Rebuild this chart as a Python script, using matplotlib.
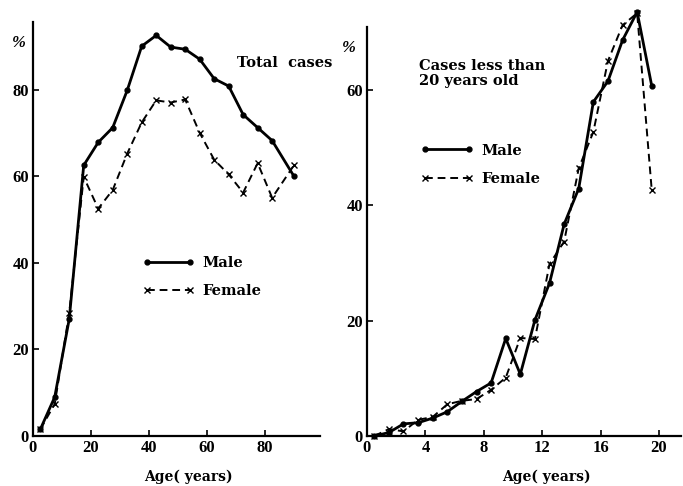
import matplotlib
matplotlib.use("Agg")
import matplotlib.pyplot as plt

### DATA

# total cases, age in years
total_age_male = [2.5, 7.5, 12.5, 17.5, 22.5, 27.5, 32.5, 37.5, 42.5, 47.5,
                  52.5, 57.5, 62.5, 67.5, 72.5, 77.5, 82.5, 90]
total_male = [1.5, 9, 27, 62.5, 67.8, 71.2, 79.8, 90, 92.5, 89.8,
              89.3, 87, 82.5, 80.8, 74.2, 71.2, 68.2, 60]
total_age_female = [2.5, 7.5, 12.5, 17.5, 22.5, 27.5, 32.5, 37.5, 42.5, 47.5,
                    52.5, 57.5, 62.5, 67.5, 72.5, 77.5, 82.5, 90]
total_female = [1.5, 7.4, 28.4, 59.8, 52.5, 56.8, 65.2, 72.4, 77.5, 77.0,
                77.7, 70.0, 63.8, 60.4, 56.2, 63.0, 55.0, 62.5]

# cases less than 20 years old
young_age = [0.5, 1.5, 2.5, 3.5, 4.5, 5.5, 6.5, 7.5, 8.5, 9.5,
             10.5, 11.5, 12.5, 13.5, 14.5, 15.5, 16.5, 17.5, 18.5, 19.5]
young_male = [0, 0.6, 2.1, 2.3, 3.1, 4.2, 6.0, 7.7, 9.2, 16.9,
              10.7, 20.1, 26.5, 36.7, 42.9, 57.9, 61.5, 68.6, 73.5, 60.7]
young_female = [0, 1.2, 0.8, 2.8, 3.3, 5.5, 6.1, 6.4, 8.0, 10.1,
                17.0, 16.8, 29.8, 33.7, 46.4, 52.7, 65.0, 71.2, 73.3, 42.6]

left_xticks = [0, 20, 40, 60, 80]
left_yticks = [0, 20, 40, 60, 80]
right_xticks = [0, 4, 8, 12, 16, 20]
right_yticks = [0, 20, 40, 60]

### STYLE

plt.rcParams["font.family"] = ["Liberation Serif", "DejaVu Serif"]
plt.rcParams["font.weight"] = "bold"
FS = 12
WIDE = ["DejaVu Serif"]  # wider face for the words

male_style = dict(color="black", linestyle="-", linewidth=2.0, marker="o",
                  markersize=3.5, clip_on=False)
female_style = dict(color="black", linestyle=(0, (4, 2.5)), linewidth=1.4,
                    marker="x", markersize=5, markeredgewidth=1.0, clip_on=False)
legend_opts = dict(loc="center left", frameon=False, numpoints=2,
                   handlelength=3.6, handletextpad=0.55, labelspacing=1.0,
                   prop={"family": WIDE, "size": 10.5, "weight": "bold"})


def style_axes(ax):
    for side in ("top", "right"):
        ax.spines[side].set_visible(False)
    for side in ("left", "bottom"):
        ax.spines[side].set_linewidth(1.6)
    ax.tick_params(direction="in", length=4, width=1.2, labelsize=FS, pad=3)
    for lab in ax.get_xticklabels() + ax.get_yticklabels():
        lab.set_fontweight("bold")


fig = plt.figure(figsize=(6.83, 4.86), dpi=100)

### LEFT: total cases
ax1 = fig.add_axes([0.0483, 0.1029, 0.4202, 0.8519])
ax1.plot(total_age_male, total_male, label="Male", **male_style)
ax1.plot(total_age_female, total_female, label="Female", **female_style)
ax1.set_xlim(0, 99)
ax1.set_ylim(0, 95.6)
ax1.set_xticks(left_xticks)
ax1.set_yticks(left_yticks)
style_axes(ax1)
ax1.text(-0.025, 0.95, "%", transform=ax1.transAxes, fontsize=FS,
         fontstyle="italic", ha="right", va="center")
ax1.text(0.71, 0.90, "Total  cases", transform=ax1.transAxes, fontsize=10.5,
         family=WIDE, fontweight="bold", ha="left", va="center")
ax1.set_xlabel("Age( years)", fontsize=10, family=WIDE, fontweight="bold")
ax1.xaxis.set_label_coords(0.54, -0.082)
ax1.legend(bbox_to_anchor=(0.335, 0.384), **legend_opts)

### RIGHT: cases less than 20 years old
ax2 = fig.add_axes([0.5373, 0.1029, 0.4597, 0.8416])
ax2.plot(young_age, young_male, label="Male", **male_style)
ax2.plot(young_age, young_female, label="Female", **female_style)
ax2.set_xlim(0, 21.5)
ax2.set_ylim(0, 70.9)
ax2.set_xticks(right_xticks)
ax2.set_yticks(right_yticks)
style_axes(ax2)
ax2.text(-0.035, 0.949, "%", transform=ax2.transAxes, fontsize=FS,
         fontstyle="italic", ha="right", va="center")
ax2.text(0.165, 0.886, "Cases less than\n20 years old", transform=ax2.transAxes,
         fontsize=10.5, family=WIDE, fontweight="bold", ha="left", va="center",
         linespacing=1.05)
ax2.set_xlabel("Age( years)", fontsize=10, family=WIDE, fontweight="bold")
ax2.xaxis.set_label_coords(0.573, -0.083)
ax2.legend(bbox_to_anchor=(0.13, 0.663), **legend_opts)

fig.savefig("out.png", dpi=100)
